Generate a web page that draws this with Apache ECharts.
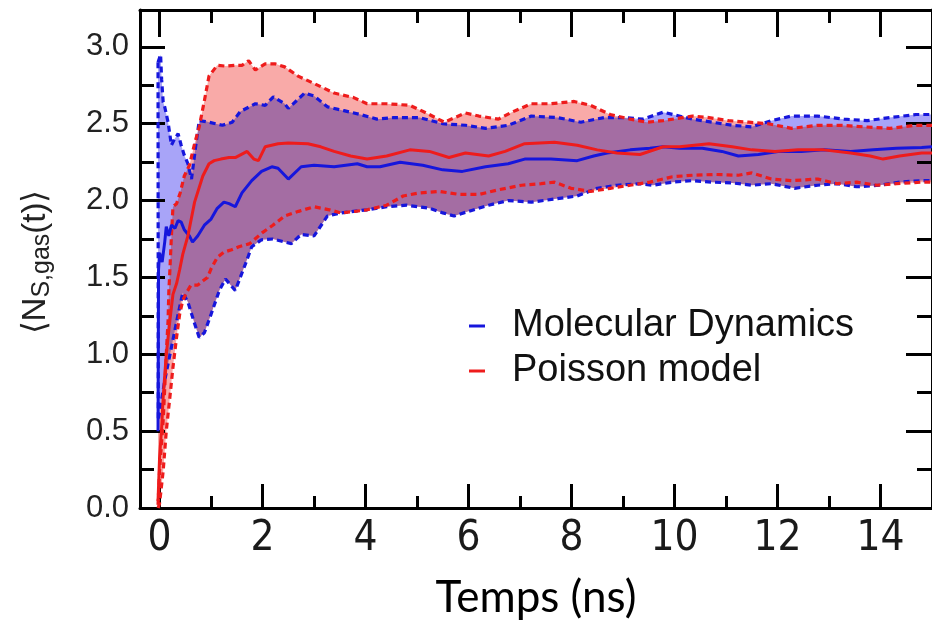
<!DOCTYPE html>
<html>
<head>
<meta charset="utf-8">
<script src="https://cdn.jsdelivr.net/npm/echarts@6/dist/echarts.min.js"></script>
<style>
  html, body { margin: 0; padding: 0; background: #fff; }
  #chart { width: 932px; height: 628px; }
</style>
</head>
<body>
<div id="chart"></div>
<script>
// ---------- data ----------
const xMajorTicks = [0, 2, 4, 6, 8, 10, 12, 14];
const xMinorTicks = [1, 3, 5, 7, 9, 11, 13];
const yMajorTicks = [0, 0.5, 1.0, 1.5, 2.0, 2.5, 3.0];
const yMinorTicks = [0.25, 0.75, 1.25, 1.75, 2.25, 2.75];

// Molecular Dynamics (blue)
const mdUpperT = [-0.03, 0.0, 0.02, 0.04, 0.07, 0.10, 0.165, 0.23, 0.29, 0.36, 0.42, 0.48, 0.55, 0.62, 0.70, 0.77, 0.80, 0.96, 1.22, 1.41, 1.57, 1.86, 2.05, 2.21, 2.43, 2.50, 2.82, 3.0, 3.26, 3.58, 3.9, 4.22, 4.54, 5.05, 5.5, 5.94, 6.33, 6.77, 7.22, 7.73, 8.18, 8.63, 9.0, 9.39, 9.78, 10.35, 10.73, 11.12, 11.5, 11.88, 12.27, 12.78, 13.29, 13.74, 14.18, 14.69, 15.0];
const mdUpper  = [2.90, 2.93, 2.95, 2.79, 2.64, 2.61, 2.51, 2.36, 2.40, 2.435, 2.36, 2.295, 2.24, 2.14, 2.35, 2.52, 2.53, 2.51, 2.49, 2.51, 2.58, 2.63, 2.62, 2.675, 2.63, 2.60, 2.70, 2.68, 2.61, 2.585, 2.56, 2.53, 2.54, 2.54, 2.50, 2.49, 2.47, 2.49, 2.55, 2.54, 2.51, 2.54, 2.54, 2.53, 2.575, 2.53, 2.51, 2.49, 2.48, 2.52, 2.55, 2.55, 2.53, 2.52, 2.54, 2.56, 2.56];

const mdLowerT = [-0.03, -0.025, 0.0, 0.10, 0.23, 0.36, 0.45, 0.55, 0.68, 0.77, 0.87, 1.0, 1.16, 1.28, 1.47, 1.67, 1.79, 1.98, 2.2, 2.56, 2.75, 3.0, 3.26, 3.52, 4.03, 4.41, 4.8, 5.24, 5.5, 5.72, 6.0, 6.39, 6.77, 7.22, 7.67, 8.11, 8.5, 8.88, 9.33, 9.58, 9.96, 10.35, 10.73, 11.12, 11.5, 11.88, 12.33, 12.78, 13.16, 13.54, 13.99, 14.37, 14.8, 15.0];
const mdLower  = [2.90, 0.57, 0.62, 0.83, 1.045, 1.26, 1.40, 1.34, 1.20, 1.11, 1.14, 1.26, 1.415, 1.49, 1.415, 1.59, 1.70, 1.745, 1.75, 1.72, 1.78, 1.77, 1.90, 1.92, 1.94, 1.96, 1.97, 1.95, 1.92, 1.90, 1.93, 1.97, 2.00, 1.99, 2.01, 2.03, 2.08, 2.10, 2.11, 2.10, 2.12, 2.13, 2.12, 2.115, 2.10, 2.11, 2.08, 2.10, 2.11, 2.09, 2.10, 2.12, 2.13, 2.13];

const mdMeanT = [-0.03, -0.02, 0.0, 0.05, 0.10, 0.13, 0.18, 0.23, 0.30, 0.36, 0.42, 0.48, 0.58, 0.64, 0.74, 0.87, 1.0, 1.12, 1.25, 1.35, 1.47, 1.6, 1.79, 1.98, 2.18, 2.30, 2.50, 2.75, 3.0, 3.39, 3.84, 4.03, 4.28, 4.67, 5.11, 5.5, 5.88, 6.33, 6.77, 7.09, 7.6, 8.11, 8.43, 8.69, 9.14, 9.52, 9.78, 10.1, 10.54, 10.92, 11.24, 11.63, 12.01, 12.46, 12.9, 13.42, 13.86, 14.31, 14.8, 15.0];
const mdMean  = [0.50, 1.55, 1.66, 1.60, 1.73, 1.83, 1.77, 1.84, 1.82, 1.87, 1.86, 1.81, 1.77, 1.73, 1.77, 1.84, 1.88, 1.95, 1.99, 1.98, 1.96, 2.05, 2.13, 2.19, 2.22, 2.21, 2.14, 2.22, 2.23, 2.22, 2.24, 2.22, 2.22, 2.25, 2.23, 2.20, 2.19, 2.22, 2.24, 2.27, 2.27, 2.26, 2.29, 2.31, 2.33, 2.34, 2.35, 2.34, 2.34, 2.32, 2.29, 2.30, 2.32, 2.32, 2.33, 2.32, 2.33, 2.34, 2.345, 2.35];

// Poisson model (red)
const psUpperT = [-0.03, 0.0, 0.07, 0.10, 0.13, 0.165, 0.18, 0.20, 0.23, 0.26, 0.33, 0.40, 0.48, 0.58, 0.68, 0.77, 0.87, 0.96, 1.12, 1.28, 1.47, 1.6, 1.73, 1.86, 2.05, 2.24, 2.43, 2.69, 3.01, 3.39, 3.77, 4.03, 4.41, 4.86, 5.18, 5.53, 5.94, 6.2, 6.58, 6.84, 7.22, 7.6, 8.05, 8.37, 8.75, 9.14, 9.46, 9.78, 10.35, 10.67, 11.05, 11.44, 11.82, 12.27, 12.78, 13.22, 13.67, 14.18, 14.69, 15.0];
const psUpper  = [0.02, 0.24, 0.57, 0.78, 1.0, 1.22, 1.41, 1.545, 1.77, 1.96, 1.98, 2.05, 2.16, 2.23, 2.37, 2.48, 2.65, 2.81, 2.88, 2.875, 2.88, 2.88, 2.91, 2.85, 2.89, 2.89, 2.87, 2.81, 2.76, 2.70, 2.67, 2.63, 2.63, 2.62, 2.57, 2.51, 2.57, 2.55, 2.53, 2.575, 2.63, 2.63, 2.645, 2.62, 2.56, 2.53, 2.51, 2.52, 2.55, 2.54, 2.52, 2.51, 2.50, 2.47, 2.49, 2.49, 2.48, 2.47, 2.49, 2.49];

const psLowerT = [-0.03, 0.0, 0.07, 0.13, 0.20, 0.26, 0.33, 0.39, 0.45, 0.52, 0.61, 0.74, 0.85, 0.93, 1.0, 1.12, 1.25, 1.4, 1.54, 1.75, 1.99, 2.2, 2.43, 2.7, 3.0, 3.3, 3.52, 3.8, 4.03, 4.41, 4.73, 5.05, 5.43, 5.82, 6.2, 6.58, 7.03, 7.41, 7.67, 7.99, 8.37, 8.75, 9.14, 9.52, 9.96, 10.35, 10.8, 11.24, 11.5, 11.88, 12.27, 12.78, 13.16, 13.54, 13.93, 14.31, 14.8, 15.0];
const psLower  = [0.0, 0.03, 0.24, 0.50, 0.72, 0.915, 1.11, 1.26, 1.35, 1.40, 1.45, 1.45, 1.48, 1.50, 1.556, 1.63, 1.665, 1.68, 1.70, 1.72, 1.79, 1.84, 1.90, 1.93, 1.96, 1.94, 1.92, 1.93, 1.94, 1.97, 2.03, 2.05, 2.06, 2.04, 2.04, 2.07, 2.10, 2.11, 2.12, 2.08, 2.06, 2.08, 2.10, 2.12, 2.155, 2.165, 2.17, 2.165, 2.18, 2.14, 2.13, 2.14, 2.11, 2.12, 2.10, 2.11, 2.12, 2.12];

const psMeanT = [-0.03, 0.0, 0.04, 0.07, 0.13, 0.20, 0.26, 0.33, 0.39, 0.45, 0.55, 0.68, 0.84, 0.96, 1.06, 1.19, 1.35, 1.47, 1.70, 1.83, 1.92, 2.05, 2.30, 2.5, 2.88, 3.13, 3.39, 3.71, 4.03, 4.41, 4.86, 5.24, 5.62, 5.94, 6.39, 6.71, 7.09, 7.67, 8.11, 8.5, 8.88, 9.33, 9.78, 10.1, 10.67, 11.12, 11.5, 11.95, 12.4, 12.9, 13.42, 13.8, 14.05, 14.37, 14.8, 15.0];
const psMean  = [0.045, 0.33, 0.52, 0.72, 1.0, 1.22, 1.39, 1.46, 1.55, 1.65, 1.77, 1.99, 2.16, 2.24, 2.26, 2.27, 2.28, 2.28, 2.32, 2.27, 2.26, 2.35, 2.37, 2.375, 2.37, 2.35, 2.32, 2.29, 2.27, 2.29, 2.33, 2.32, 2.28, 2.31, 2.29, 2.32, 2.37, 2.38, 2.36, 2.33, 2.31, 2.30, 2.35, 2.35, 2.37, 2.35, 2.33, 2.32, 2.33, 2.33, 2.31, 2.29, 2.27, 2.29, 2.31, 2.31];

const seriesNames = ['Molecular Dynamics', 'Poisson model'];
const xTitle = 'Temps (ns)';

// ---------- helpers ----------
const zip = (t, v) => t.map((x, i) => [x, v[i]]);
const ring = (uT, u, lT, l) => zip(uT, u).concat(zip(lT, l).reverse());

const BLUE = '#1616dc', RED = '#ee1c1c';
const BLUE_FILL = 'rgb(168,164,248)', RED_FILL = 'rgb(249,170,168)';
const SANS = '"Liberation Sans", Arial, Helvetica, sans-serif';
const NARROW = '"Liberation Sans Narrow", "DejaVu Sans Condensed", Lato, sans-serif';

// a filled area made of one or more rings (drawn as one path, so overlaps are filled once)
function band(name, rings, fill) {
  const all = [].concat.apply([], rings);
  return {
    type: 'custom', name: name, silent: true, z: 1, clip: true,
    data: all, encode: { x: 0, y: 1 },
    renderItem: function (params, api) {
      if (params.dataIndex !== 0) return null;
      let d = '';
      rings.forEach(function (r) {
        r.forEach(function (p, i) {
          const c = api.coord(p);
          d += (i === 0 ? 'M' : 'L') + c[0].toFixed(2) + ' ' + c[1].toFixed(2) + ' ';
        });
        d += 'Z ';
      });
      return { type: 'path', shape: { pathData: d }, style: { fill: fill, stroke: null } };
    }
  };
}
function line(name, data, color, dashed, z) {
  return {
    type: 'line', name: name, data: data, showSymbol: false, symbol: 'none',
    z: z, silent: true,
    lineStyle: { color: color, width: dashed ? 3.2 : 3, type: dashed ? [6, 4] : 'solid' },
    itemStyle: { color: color }
  };
}

const XMIN = -0.38, XMAX = 15, YMIN = 0, YMAX = 3.24;
const axisLineStyle = { color: '#000', width: 3 };
function xAx(pos, ticks, len, showLine, showLabel) {
  return {
    type: 'value', position: pos, min: XMIN, max: XMAX,
    splitLine: { show: false },
    axisLine: { show: showLine, onZero: false, lineStyle: axisLineStyle },
    axisTick: { show: true, inside: true, length: len, customValues: ticks, lineStyle: { color: '#000', width: 3 } },
    axisLabel: { show: showLabel, customValues: ticks, margin: 10, fontFamily: NARROW, fontSize: 42, color: '#1a1a1a' }
  };
}
function yAx(pos, ticks, len, showLine, showLabel) {
  return {
    type: 'value', position: pos, min: YMIN, max: YMAX,
    splitLine: { show: false },
    axisLine: { show: showLine, onZero: false, lineStyle: axisLineStyle },
    axisTick: { show: true, inside: true, length: len, customValues: ticks, lineStyle: { color: '#000', width: 3 } },
    axisLabel: { show: showLabel, customValues: ticks, margin: 11, fontFamily: SANS, fontSize: 31, color: '#222',
                 formatter: v => v.toFixed(1) }
  };
}

const xAxes = [
  xAx('bottom', xMajorTicks, 24, true, true),
  xAx('bottom', xMinorTicks, 12, false, false),
  xAx('top', xMajorTicks, 27, true, false),
  xAx('top', xMinorTicks, 13, false, false)
];
Object.assign(xAxes[0], {
  name: xTitle, nameLocation: 'middle', nameGap: 68,
  nameTextStyle: { fontFamily: 'Lato, "Open Sans", sans-serif', fontSize: 44, color: '#000' }
});
const yAxes = [
  yAx('left', yMajorTicks, 25, true, true),
  yAx('left', yMinorTicks, 14, false, false),
  yAx('right', yMajorTicks, 26, true, false),
  yAx('right', yMinorTicks, 15, false, false)
];

const option = {
  backgroundColor: '#ffffff',
  animation: false,
  grid: { left: 140, right: -11, top: 10, bottom: 120, containLabel: false },
  xAxis: xAxes,
  yAxis: yAxes,
  legend: {
    orient: 'vertical', left: 464, top: 302, itemGap: 7,
    icon: 'rect', itemWidth: 16, itemHeight: 3,
    selectedMode: false,
    data: seriesNames,
    textStyle: { fontFamily: SANS, fontSize: 38, color: '#111', padding: [0, 0, 0, 22] }
  },
  graphic: [{
    type: 'text', x: 36, y: 262, rotation: Math.PI / 2, silent: true,
    style: {
      text: '{m|⟨N}{s|S,gas}{m|(t)⟩}',
      align: 'center', verticalAlign: 'middle',
      fill: '#222',
      rich: {
        m: { fontFamily: SANS, fontSize: 33, lineHeight: 38, verticalAlign: 'middle', fill: '#222' },
        s: { fontFamily: SANS, fontSize: 25, lineHeight: 26, verticalAlign: 'bottom', fill: '#222' }
      }
    }
  }],
  series: [
    band('md band', [ring(mdUpperT, mdUpper, mdLowerT, mdLower)], BLUE_FILL),
    // the Poisson shading reaches down to whichever lower bound is lower
    band('ps band', [ring(psUpperT, psUpper, psLowerT, psLower), ring(psUpperT, psUpper, mdLowerT, mdLower)], RED_FILL),
    line('md upper', zip(mdUpperT, mdUpper), BLUE, true, 3),
    line('md lower', zip(mdLowerT, mdLower), BLUE, true, 3),
    line('ps upper', zip(psUpperT, psUpper), RED, true, 4),
    line('ps lower', zip(psLowerT, psLower), RED, true, 4),
    line(seriesNames[0], zip(mdMeanT, mdMean), BLUE, false, 5),
    line(seriesNames[1], zip(psMeanT, psMean), RED, false, 6)
  ]
};

const chart = echarts.init(document.getElementById('chart'), null, { renderer: 'canvas' });
chart.setOption(option);

// the two shadings overlap like tinted films: draw them with a multiply blend
const zr = chart.getZr();
zr.storage.getDisplayList(true).forEach(function (el) {
  if (el.style && (el.style.fill === BLUE_FILL || el.style.fill === RED_FILL) && !el.style.text) {
    el.style.blend = 'multiply';
    el.dirty();
  }
});
zr.refreshImmediately();
</script>
</body>
</html>
